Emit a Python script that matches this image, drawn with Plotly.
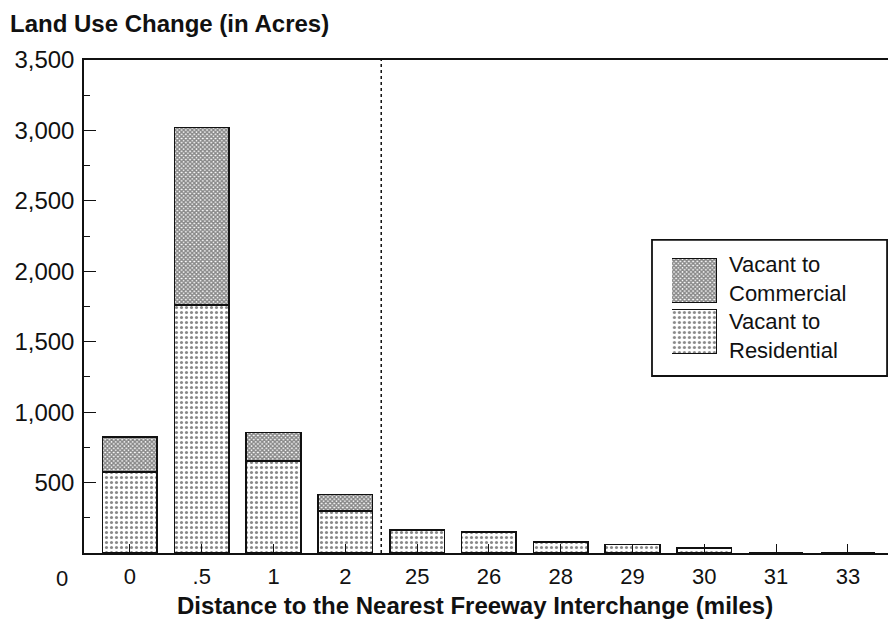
import plotly.graph_objects as go

# distance categories (miles) and acreage by change type
distances = ["0", ".5", "1", "2", "25", "26", "28", "29", "30", "31", "33"]
residential = [575, 1760, 655, 300, 165, 147, 80, 60, 35, 0, 0]
commercial = [250, 1260, 200, 115, 0, 0, 0, 0, 0, 0, 0]
y_ticks = [500, 1000, 1500, 2000, 2500, 3000, 3500]
y_minor = [250, 750, 1250, 1750, 2250, 2750, 3250]

# legend keys (drawn on a small inset axis so the patterns can be large)
key_names = ["Residential", "Commercial"]
key_labels = ["Vacant to<br>Residential", "Vacant to<br>Commercial"]

FONT = "Arial, Liberation Sans, sans-serif"
INK = "#111111"
RES_PAT = dict(shape=".", size=5, solidity=0.3, fgcolor=INK, bgcolor="white")
COM_PAT = dict(shape="x", size=3, solidity=0.75, fgcolor=INK, bgcolor="white")

fig = go.Figure()
fig.add_trace(go.Bar(
    x=distances, y=residential, name="Vacant to Residential", width=0.76,
    marker=dict(color="white", line=dict(color=INK, width=1.6), pattern=RES_PAT),
))
fig.add_trace(go.Bar(
    x=distances, y=commercial, name="Vacant to Commercial", width=0.76,
    marker=dict(color="white", line=dict(color=INK, width=1.6), pattern=COM_PAT),
))

# legend swatches
fig.add_trace(go.Bar(
    y=key_names, x=[1, 1], orientation="h", width=0.86,
    xaxis="x2", yaxis="y2", hoverinfo="skip",
    marker=dict(color="white", line=dict(color=INK, width=1.2),
                pattern=dict(shape=[RES_PAT["shape"], COM_PAT["shape"]],
                             size=[RES_PAT["size"], COM_PAT["size"]],
                             solidity=[RES_PAT["solidity"], COM_PAT["solidity"]],
                             fgcolor=INK, bgcolor="white")),
))

# dotted divider between the near and far distance groups
fig.add_shape(type="line", xref="x", yref="paper", x0=3.5, x1=3.5, y0=0, y1=1,
              line=dict(color=INK, width=1.5, dash="dot"))
# legend frame
fig.add_shape(type="rect", xref="paper", yref="paper", x0=0.6995, x1=0.989,
              y0=0.359, y1=0.635, line=dict(color=INK, width=1.8),
              fillcolor="rgba(0,0,0,0)", layer="above")
for lbl, yy in zip(key_labels, [0.44, 0.556]):
    fig.add_annotation(text=lbl, xref="paper", yref="paper", x=0.792, y=yy,
                       xanchor="left", yanchor="middle", align="left", showarrow=False,
                       font=dict(size=22, color=INK))

fig.add_annotation(text="<b>Land Use Change (in Acres)</b>", xref="paper", yref="paper",
                   x=-0.094, y=1.075, xanchor="left", yanchor="middle", showarrow=False,
                   font=dict(size=24, color=INK))
fig.add_annotation(text="<b>Distance to the Nearest Freeway Interchange (miles)</b>",
                   xref="paper", yref="paper", x=0.4815, y=-0.1055,
                   xanchor="center", yanchor="middle", showarrow=False,
                   font=dict(size=24, color=INK))
fig.add_annotation(text="0", xref="paper", yref="paper", x=-0.027, y=-0.051,
                   xanchor="center", yanchor="middle", showarrow=False,
                   font=dict(size=22, color=INK))

fig.update_layout(
    width=888, height=616,
    barmode="stack",
    paper_bgcolor="white", plot_bgcolor="white",
    font=dict(family=FONT, size=22, color=INK),
    margin=dict(l=76, r=0, t=52, b=71),
    showlegend=False,
    xaxis=dict(type="category", range=[-0.64, 10.67],
               showline=True, linecolor=INK, linewidth=1.5, mirror=True,
               ticks="inside", ticklen=9, tickcolor=INK, showgrid=False,
               ticklabelstandoff=3),
    yaxis=dict(range=[0, 3500], tickvals=y_ticks, tickformat=",",
               showline=True, linecolor=INK, linewidth=1.5,
               ticks="inside", ticklen=12, tickcolor=INK, showgrid=False, zeroline=False,
               tickfont=dict(size=24), ticklabelstandoff=3,
               minor=dict(ticks="inside", ticklen=6, tickcolor=INK, tickvals=y_minor)),
    xaxis2=dict(domain=[0.724, 0.7796], anchor="y2", range=[0, 1], visible=False),
    yaxis2=dict(domain=[0.3976, 0.6045], anchor="x2", range=[-0.5, 1.5],
                visible=False, type="category"),
)

fig.write_html("out.html")
